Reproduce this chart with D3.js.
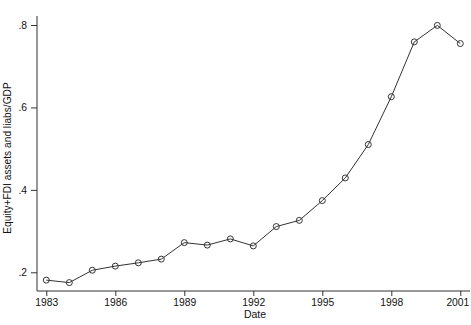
<!DOCTYPE html>
<html><head><meta charset="utf-8">
<script src="https://cdn.jsdelivr.net/npm/d3@7"></script>
<style>body{margin:0;background:#fff}svg{display:block;font-family:"Liberation Sans",Arial,sans-serif}</style>
</head><body>
<svg id="c" width="471" height="325"></svg>
<script>
const years = [1983,1984,1985,1986,1987,1988,1989,1990,1991,1992,1993,1994,1995,1996,1997,1998,1999,2000,2001];
const values = [0.181,0.175,0.205,0.215,0.223,0.232,0.272,0.266,0.281,0.264,0.311,0.326,0.374,0.429,0.510,0.626,0.759,0.799,0.755];
const xTicks = [1983,1986,1989,1992,1995,1998,2001];
const yTicks = [0.2,0.4,0.6,0.8];
const yTickLabels = [".2",".4",".6",".8"];

const svg = d3.select("#c");
const x = d3.scaleLinear().domain([1983,2001]).range([46.3,460.3]);
const y = d3.scaleLinear().domain([0.2,0.8]).range([272.3,25]);
const axisLeftX = 37, axisBottomY = 291;
const col = "#333";

// y axis
const ya = svg.append("g").attr("transform",`translate(${axisLeftX},0)`)
  .call(d3.axisLeft(y).tickValues(yTicks).tickFormat((d,i)=>yTickLabels[i]).tickSize(6).tickPadding(4).tickSizeOuter(0));
ya.select(".domain").remove();
ya.append("line").attr("x1",0).attr("x2",0).attr("y1",16).attr("y2",axisBottomY).attr("stroke",col);
// x axis
const xa = svg.append("g").attr("transform",`translate(0,${axisBottomY})`)
  .call(d3.axisBottom(x).tickValues(xTicks).tickFormat(d3.format("d")).tickSize(5).tickPadding(2.5).tickSizeOuter(0));
xa.select(".domain").remove();
xa.append("line").attr("x1",axisLeftX).attr("x2",470).attr("y1",0).attr("y2",0).attr("stroke",col);
svg.selectAll(".tick line").attr("stroke",col);
svg.selectAll(".tick text").attr("fill","#111").style("font-size","10.3px").style("font-family","'Liberation Sans',Arial,sans-serif");
// last x label shifted to stay inside the picture
xa.selectAll(".tick").filter(d=>d===2001).select("text").attr("text-anchor","end").attr("x",8.5);

// line
svg.append("path").datum(years.map((d,i)=>[d,values[i]]))
  .attr("fill","none").attr("stroke",col).attr("stroke-width",1)
  .attr("d",d3.line().x(d=>x(d[0])).y(d=>y(d[1])));
svg.selectAll("circle.pt").data(years).join("circle").attr("class","pt")
  .attr("cx",d=>x(d)).attr("cy",(d,i)=>y(values[i])).attr("r",3)
  .attr("fill","none").attr("stroke",col).attr("stroke-width",1);

// titles
svg.append("text").attr("x",255).attr("y",317.5).attr("text-anchor","middle")
  .style("font-size","10.5px").attr("fill","#111").text("Date");
svg.append("text").attr("transform","translate(10.5,158) rotate(-90)").attr("text-anchor","middle")
  .style("font-size","10.2px").attr("fill","#111").text("Equity+FDI assets and liabs/GDP");
</script>
</body></html>
